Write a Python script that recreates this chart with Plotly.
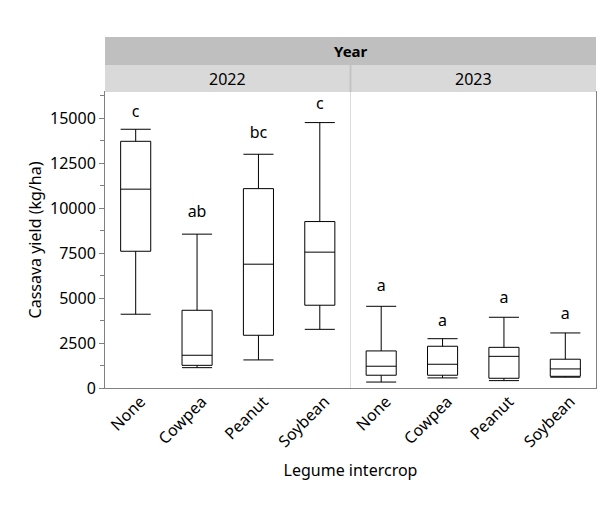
import plotly.graph_objects as go

# Data
categories = ["None", "Cowpea", "Peanut", "Soybean", "None", "Cowpea", "Peanut", "Soybean"]
years = ["2022"] * 4 + ["2023"] * 4
lower_whisker = [4100, 1130, 1560, 3260, 330, 560, 410, 600]
q1 = [7600, 1260, 2930, 4600, 710, 710, 540, 650]
median = [11050, 1820, 6880, 7550, 1210, 1320, 1760, 1060]
q3 = [13710, 4320, 11080, 9250, 2060, 2320, 2260, 1600]
upper_whisker = [14380, 8550, 12990, 14750, 4540, 2740, 3930, 3060]
letters = ["c", "ab", "bc", "c", "a", "a", "a", "a"]
letter_y = [15300, 9710, 14100, 15730, 5630, 3690, 4930, 4040]

x_idx = list(range(len(categories)))
FONT = "Noto Sans"

fig = go.Figure()
fig.add_trace(go.Box(
    x=x_idx,
    q1=q1, median=median, q3=q3,
    lowerfence=lower_whisker, upperfence=upper_whisker,
    fillcolor="white",
    line=dict(color="black", width=1),
    whiskerwidth=1,
    width=0.49,
    boxpoints=False,
    showlegend=False,
    hoverinfo="skip",
))

fig.add_trace(go.Scatter(
    x=x_idx, y=letter_y, text=letters, mode="text",
    textfont=dict(family=FONT, size=16, color="black"),
    showlegend=False, hoverinfo="skip",
))

plot_h = 296
s1 = 27 / plot_h
s2 = 28 / plot_h
shapes = [
    dict(type="line", xref="x", yref="paper", x0=3.5, x1=3.5, y0=0, y1=1,
         line=dict(color="#dcdcdc", width=1), layer="below"),
    dict(type="rect", xref="paper", yref="paper", x0=0, x1=1, y0=1, y1=1 + s1,
         fillcolor="#d9d9d9", line=dict(width=0)),
    dict(type="rect", xref="paper", yref="paper", x0=0, x1=1, y0=1 + s1, y1=1 + s1 + s2,
         fillcolor="#bfbfbf", line=dict(width=0)),
    dict(type="line", xref="x", yref="paper", x0=3.5, x1=3.5, y0=1, y1=1 + s1,
         line=dict(color="#c4c4c4", width=2)),
]

annotations = [
    dict(text="<b>Year</b>", xref="paper", yref="paper", x=0.5, y=1 + s1 + s2 / 2,
         showarrow=False, font=dict(family=FONT, size=15, color="black"),
         xanchor="center", yanchor="middle"),
    dict(text="2022", xref="x", yref="paper", x=1.5, y=1 + s1 / 2,
         showarrow=False, font=dict(family=FONT, size=16, color="black"),
         xanchor="center", yanchor="middle"),
    dict(text="2023", xref="x", yref="paper", x=5.5, y=1 + s1 / 2,
         showarrow=False, font=dict(family=FONT, size=16, color="black"),
         xanchor="center", yanchor="middle"),
]

fig.update_layout(
    width=600, height=502,
    margin=dict(l=97, r=12, t=84, b=122),
    paper_bgcolor="white", plot_bgcolor="white",
    font=dict(family=FONT, size=15, color="black"),
    shapes=shapes, annotations=annotations,
)

fig.update_xaxes(
    range=[-0.5, 7.5], automargin=False,
    tickmode="array", tickvals=x_idx, ticktext=categories,
    tickangle=-45, ticks="", showgrid=False, zeroline=False,
    ticklabelshift=5, ticklabelstandoff=-3,
    showline=True, linecolor="#808080", linewidth=1, mirror=True,
    tickfont=dict(family=FONT, size=16, color="black"),
    title=dict(text="Legume intercrop", font=dict(family=FONT, size=16), standoff=14),
)
fig.update_yaxes(
    range=[0, 16450], automargin=False,
    tickmode="linear", tick0=0, dtick=2500, tickformat="d",
    ticks="outside", ticklen=5, tickcolor="#808080",
    minor=dict(ticks="outside", ticklen=4, dtick=1250, tickcolor="#808080", showgrid=False),
    showgrid=False, zeroline=False,
    showline=True, linecolor="#808080", linewidth=1, mirror=True,
    tickfont=dict(family=FONT, size=16, color="black"),
    title=dict(text="Cassava yield (kg/ha)", font=dict(family=FONT, size=16), standoff=4),
)

fig.write_html("out.html")
